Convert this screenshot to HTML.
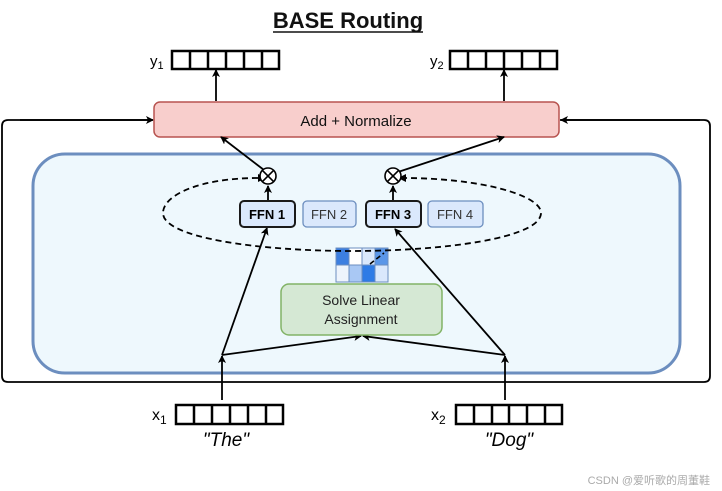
<!DOCTYPE html>
<html><head><meta charset="utf-8"><style>body{margin:0;background:#fff}svg{display:block}</style></head><body>
<svg width="722" height="491" viewBox="0 0 722 491" xmlns="http://www.w3.org/2000/svg" font-family="Liberation Sans, sans-serif">
<defs>
<marker id="a" markerWidth="8" markerHeight="8" refX="7" refY="4" orient="auto" markerUnits="userSpaceOnUse"><path d="M0,0 L8,4 L0,8 L2,4z" fill="#000"/></marker>
</defs>
<text x="348" y="28" text-anchor="middle" font-size="22" font-weight="bold" fill="#111">BASE Routing</text>
<line x1="273" y1="32" x2="423" y2="32" stroke="#111" stroke-width="1.5"/>
<path d="M152,120 H8 Q2,120 2,126 V376 Q2,382 8,382 H704 Q710,382 710,376 V126 Q710,120 704,120 H560" fill="none" stroke="#000" stroke-width="1.8"/>
<line x1="20" y1="120" x2="153" y2="120" stroke="#000" stroke-width="1.8" marker-end="url(#a)"/>
<line x1="700" y1="120" x2="561" y2="120" stroke="#000" stroke-width="1.8" marker-end="url(#a)"/>
<rect x="33" y="154" width="647" height="219" rx="32" fill="#eef8fd" stroke="#6c8ebf" stroke-width="3"/>
<rect x="154" y="102" width="405" height="35" rx="6" fill="#f8cecc" stroke="#b85450" stroke-width="1.5"/>
<text x="356" y="126" text-anchor="middle" font-size="15" fill="#111">Add + Normalize</text>
<text x="150" y="66" font-size="15">y<tspan font-size="11" dy="3">1</tspan></text>
<g fill="none" stroke="#000" stroke-width="2.5">
<rect x="172" y="51" width="107" height="18"/>
<path d="M190,51V69M208,51V69M226,51V69M244,51V69M262,51V69"/>
<rect x="450" y="51" width="107" height="18"/>
<path d="M468,51V69M486,51V69M504,51V69M522,51V69M540,51V69"/>
<rect x="176" y="405" width="107" height="19"/>
<path d="M194,405V424M212,405V424M230,405V424M248,405V424M266,405V424"/>
<rect x="456" y="405" width="106" height="19"/>
<path d="M474,405V424M492,405V424M509,405V424M527,405V424M545,405V424"/>
</g>
<text x="430" y="66" font-size="15">y<tspan font-size="11" dy="3">2</tspan></text>
<text x="152" y="420" font-size="16">x<tspan font-size="12" dy="4">1</tspan></text>
<text x="431" y="420" font-size="16">x<tspan font-size="12" dy="4">2</tspan></text>
<text x="226" y="446" text-anchor="middle" font-size="19" font-style="italic">"The"</text>
<text x="509" y="446" text-anchor="middle" font-size="19" font-style="italic">"Dog"</text>
<g stroke="#000" stroke-width="1.8" fill="none">
<line x1="216" y1="101" x2="216" y2="70" marker-end="url(#a)"/>
<line x1="504" y1="101" x2="504" y2="70" marker-end="url(#a)"/>
<line x1="264" y1="170" x2="221" y2="137" marker-end="url(#a)"/>
<line x1="398" y1="172" x2="504" y2="137" marker-end="url(#a)"/>
<line x1="268" y1="200" x2="268" y2="186" marker-end="url(#a)"/>
<line x1="393" y1="200" x2="393" y2="186" marker-end="url(#a)"/>
<line x1="222" y1="400" x2="222" y2="356" marker-end="url(#a)"/>
<line x1="505" y1="400" x2="505" y2="356" marker-end="url(#a)"/>
<line x1="222" y1="355" x2="267" y2="228" marker-end="url(#a)"/>
<line x1="222" y1="355" x2="361" y2="336" marker-end="url(#a)"/>
<line x1="505" y1="355" x2="363" y2="336" marker-end="url(#a)"/>
<line x1="505" y1="355" x2="395" y2="229" marker-end="url(#a)"/>
</g>
<rect x="336" y="248" width="13" height="17" fill="#3d7fe0" stroke="#6c8ebf"/>
<rect x="349" y="248" width="13" height="17" fill="#fff" stroke="#6c8ebf"/>
<rect x="362" y="248" width="13" height="17" fill="#dae8fc" stroke="#6c8ebf"/>
<rect x="375" y="248" width="13" height="17" fill="#5a96e8" stroke="#6c8ebf"/>
<rect x="336" y="265" width="13" height="17" fill="#eef4fc" stroke="#6c8ebf"/>
<rect x="349" y="265" width="13" height="17" fill="#a9c8f4" stroke="#6c8ebf"/>
<rect x="362" y="265" width="13" height="17" fill="#2e7be6" stroke="#6c8ebf"/>
<rect x="375" y="265" width="13" height="17" fill="#dae8fc" stroke="#6c8ebf"/>
<path d="M258,178 C200,178 163,195 163,213 C163,238 260,251 352,251 C444,251 541,238 541,213 C541,195 480,178 403,178" fill="none" stroke="#000" stroke-width="1.8" stroke-dasharray="6,4"/>
<path d="M370,264 L384,253" stroke="#000" stroke-width="1.6" stroke-dasharray="5,3"/>
<path d="M258,174 L266,178 L258,182z M406,174 L398,178 L406,182z" fill="#000"/>
<g stroke="#000" stroke-width="1.6" fill="#fff">
<circle cx="268" cy="176" r="8"/><circle cx="393" cy="176" r="8"/>
<path d="M262.3,170.3L273.7,181.7M273.7,170.3L262.3,181.7M387.3,170.3L398.7,181.7M398.7,170.3L387.3,181.7"/>
</g>
<rect x="240" y="201" width="55" height="26" rx="4" fill="#dae8fc" stroke="#1a1a1a" stroke-width="2"/>
<text x="267" y="219" text-anchor="middle" font-size="13" font-weight="bold">FFN 1</text>
<rect x="303" y="201" width="53" height="26" rx="4" fill="#dae8fc" stroke="#6c8ebf" stroke-width="1.3"/>
<text x="329" y="219" text-anchor="middle" font-size="13" fill="#333">FFN 2</text>
<rect x="366" y="201" width="55" height="26" rx="4" fill="#dae8fc" stroke="#1a1a1a" stroke-width="2"/>
<text x="393" y="219" text-anchor="middle" font-size="13" font-weight="bold">FFN 3</text>
<rect x="428" y="201" width="55" height="26" rx="4" fill="#dae8fc" stroke="#6c8ebf" stroke-width="1.3"/>
<text x="455" y="219" text-anchor="middle" font-size="13" fill="#333">FFN 4</text>
<rect x="281" y="284" width="161" height="51" rx="8" fill="#d5e8d4" stroke="#82b366" stroke-width="1.5"/>
<text x="361" y="305" text-anchor="middle" font-size="14" fill="#222">Solve Linear</text>
<text x="361" y="324" text-anchor="middle" font-size="14" fill="#222">Assignment</text>
<text x="710" y="484" text-anchor="end" font-size="11" fill="#aaa" font-family="Liberation Sans, Noto Sans CJK SC, sans-serif">CSDN @爱听歌的周董鞋</text>
</svg>
</body></html>
